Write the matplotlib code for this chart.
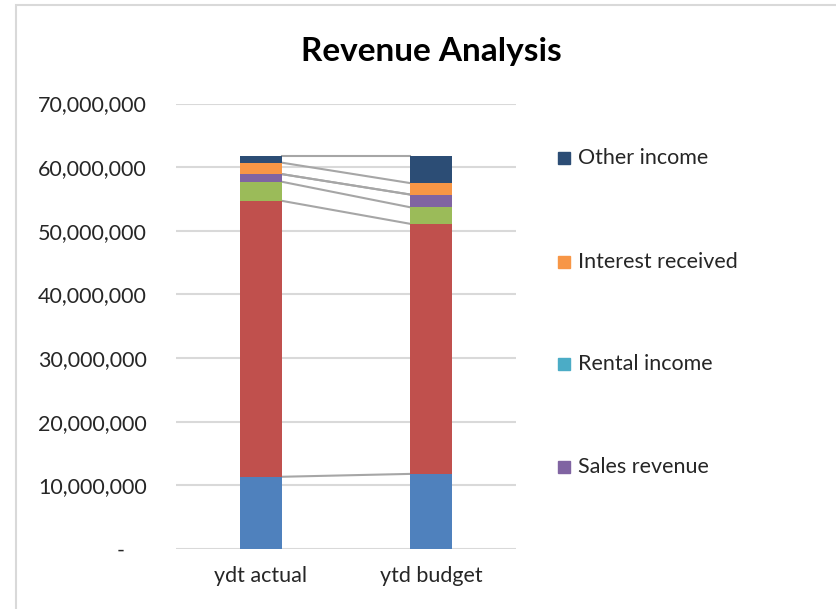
import matplotlib
matplotlib.use("Agg")
import matplotlib.pyplot as plt
from matplotlib.patches import Rectangle
from matplotlib.ticker import FuncFormatter

plt.rcParams['font.family'] = ['Lato', 'DejaVu Sans']

categories = ["ydt actual", "ytd budget"]
series_names = ["Fees revenue", "Grants revenue", "Donations", "Sales revenue",
                "Rental income", "Interest received", "Other income"]
series_values = [
    [11350000, 11800000],
    [43350000, 39300000],
    [3000000, 2600000],
    [1200000, 2000000],
    [0, 0],
    [1800000, 1800000],
    [1000000, 4200000],
]
series_colors = ["#4F81BD", "#C0504D", "#9BBB59", "#8064A2", "#4BACC6", "#F79646", "#2C4D75"]
legend_series = ["Other income", "Interest received", "Rental income", "Sales revenue"]
yticks = [0, 10000000, 20000000, 30000000, 40000000, 50000000, 60000000, 70000000]

W, H = 836, 609
fig = plt.figure(figsize=(W / 100, H / 100), dpi=100)
fig.patches.append(Rectangle((16 / W, -0.1), 1.2, 1 - 5 / H + 0.1, transform=fig.transFigure,
                             fill=False, edgecolor="#D9D9D9", linewidth=1.5))

ax = fig.add_axes([176 / W, 1 - 549 / H, 340 / W, (549 - 103.5) / H])
x = list(range(len(categories)))
width = 0.247
bottoms = [0] * len(categories)
tops = []
for name, vals, col in zip(series_names, series_values, series_colors):
    ax.bar(x, vals, width=width, bottom=bottoms, color=col, label=name, zorder=3)
    bottoms = [b + v for b, v in zip(bottoms, vals)]
    tops.append(list(bottoms))

# series lines
for t in tops:
    ax.plot([x[0] + width / 2, x[1] - width / 2], [t[0], t[1]], color="#A6A6A6",
            linewidth=1.5, zorder=2)

ax.set_xlim(-0.5, 1.5)
ax.set_ylim(0, 70000000)
ax.set_yticks(yticks)
ax.yaxis.set_major_formatter(FuncFormatter(lambda v, p: "-    " if v == 0 else f"{int(v):,}"))
ax.set_xticks(x)
ax.set_xticklabels(categories)
ax.tick_params(axis="y", length=0, pad=21, labelsize=15.5)
ax.tick_params(axis="x", length=0, pad=12, labelsize=15.5)
for lbl in ax.get_yticklabels() + ax.get_xticklabels():
    lbl.set_color("#262626")
ax.grid(axis="y", color="#D9D9D9", linewidth=1.5, zorder=0)
for s in ax.spines.values():
    s.set_visible(False)

fig.text(431 / W, 1 - 52 / H, "Revenue Analysis", ha="center", va="center",
         fontsize=24, fontweight="bold", color="#000000")

# legend
leg_y = [158, 262, 364, 467]
for name, yy in zip(legend_series, leg_y):
    col = series_colors[series_names.index(name)]
    fig.patches.append(Rectangle((558 / W, 1 - (yy + 6) / H), 12 / W, 12 / H,
                                 transform=fig.transFigure, color=col))
    fig.text(578 / W, 1 - yy / H, name, ha="left", va="center", fontsize=15.5, color="#262626")

fig.savefig("out.png", dpi=100)
